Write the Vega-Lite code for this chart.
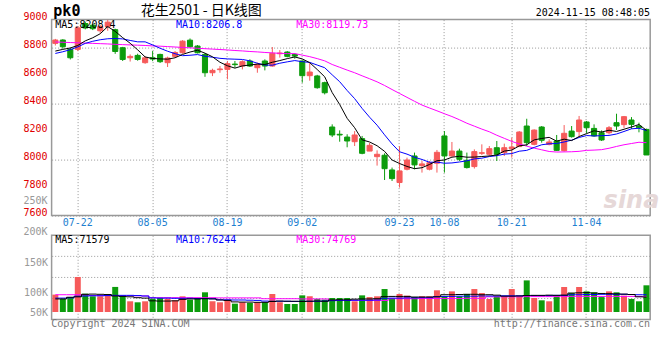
{
  "$schema": "https://vega.github.io/schema/vega-lite/v6.json",
  "autosize": {"type": "pad"},
  "padding": {"left": 22.6, "top": 2.6, "right": 9.9, "bottom": 32},
  "bounds": "flush",
  "spacing": 19.7,
  "background": "white",
  "config": {
    "font": "DejaVu Sans Mono",
    "view": {"stroke": "#999999", "strokeWidth": 1.5},
    "axis": {"ticks": false, "domain": false, "grid": true, "gridColor": "#999999", "gridDash": [1, 2], "gridWidth": 1, "labelFont": "DejaVu Sans Mono", "labelFontSize": 10, "labelOverlap": false, "labelFlush": false, "labelBound": false, "title": null}
  },
  "data": {"values": [
    {"d":"07-17","o":8830,"h":8862,"l":8815,"c":8854,"v":82.5,"m5":8775,"m10":8758,"m30":8840,"vm5":62,"vm10":66,"vm30":82},
    {"d":"07-18","o":8854,"h":8860,"l":8792,"c":8806,"v":62,"m5":8787,"m10":8770,"m30":8838,"vm5":62,"vm10":66,"vm30":82},
    {"d":"07-19","o":8787,"h":8799,"l":8715,"c":8727,"v":71,"m5":8797,"m10":8785,"m30":8836,"vm5":70,"vm10":67,"vm30":82},
    {"d":"07-22","o":8787,"h":8954,"l":8775,"c":8941,"v":166,"m5":8815,"m10":8805,"m30":8834,"vm5":72,"vm10":75,"vm30":82},
    {"d":"07-23","o":8972,"h":8985,"l":8930,"c":8940,"v":87,"m5":8848,"m10":8830,"m30":8832,"vm5":84,"vm10":76,"vm30":81},
    {"d":"07-24","o":8960,"h":8970,"l":8925,"c":8935,"v":74.5,"m5":8870,"m10":8845,"m30":8830,"vm5":85,"vm10":77,"vm30":78},
    {"d":"07-25","o":8920,"h":8962,"l":8905,"c":8950,"v":74.5,"m5":8899,"m10":8856,"m30":8828,"vm5":84,"vm10":77,"vm30":78},
    {"d":"07-26","o":8950,"h":8998,"l":8920,"c":8982,"v":80.7,"m5":8950,"m10":8863,"m30":8826,"vm5":83,"vm10":78,"vm30":78},
    {"d":"07-29","o":8928,"h":8935,"l":8755,"c":8772,"v":119,"m5":8916,"m10":8865,"m30":8823,"vm5":76,"vm10":79,"vm30":78},
    {"d":"07-30","o":8799,"h":8805,"l":8704,"c":8715,"v":74.5,"m5":8871,"m10":8862,"m30":8821,"vm5":74,"vm10":79,"vm30":77},
    {"d":"07-31","o":8727,"h":8751,"l":8700,"c":8737,"v":50.8,"m5":8831,"m10":8851,"m30":8819,"vm5":72,"vm10":79,"vm30":77},
    {"d":"08-01","o":8744,"h":8756,"l":8706,"c":8715,"v":46,"m5":8784,"m10":8841,"m30":8817,"vm5":68,"vm10":78,"vm30":77},
    {"d":"08-02","o":8692,"h":8739,"l":8684,"c":8727,"v":50.8,"m5":8733,"m10":8841,"m30":8815,"vm5":66,"vm10":76,"vm30":76},
    {"d":"08-05","o":8727,"h":8775,"l":8703,"c":8718,"v":63.4,"m5":8722,"m10":8819,"m30":8812,"vm5":53,"vm10":67,"vm30":68},
    {"d":"08-06","o":8751,"h":8756,"l":8690,"c":8699,"v":66.5,"m5":8719,"m10":8795,"m30":8810,"vm5":52,"vm10":66,"vm30":68},
    {"d":"08-07","o":8692,"h":8735,"l":8661,"c":8725,"v":63.4,"m5":8717,"m10":8774,"m30":8807,"vm5":52,"vm10":66,"vm30":68},
    {"d":"08-08","o":8737,"h":8775,"l":8730,"c":8765,"v":55.5,"m5":8727,"m10":8756,"m30":8804,"vm5":53,"vm10":65,"vm30":68},
    {"d":"08-09","o":8763,"h":8853,"l":8756,"c":8846,"v":74.5,"m5":8751,"m10":8742,"m30":8801,"vm5":60,"vm10":65,"vm30":68},
    {"d":"08-12","o":8853,"h":8865,"l":8800,"c":8806,"v":58.7,"m5":8768,"m10":8745,"m30":8798,"vm5":62,"vm10":65,"vm30":68},
    {"d":"08-13","o":8811,"h":8818,"l":8758,"c":8763,"v":66.5,"m5":8781,"m10":8750,"m30":8795,"vm5":62,"vm10":64,"vm30":68},
    {"d":"08-14","o":8751,"h":8760,"l":8591,"c":8620,"v":93.5,"m5":8760,"m10":8738,"m30":8792,"vm5":63,"vm10":64,"vm30":68},
    {"d":"08-15","o":8620,"h":8649,"l":8596,"c":8637,"v":50.8,"m5":8734,"m10":8731,"m30":8789,"vm5":62,"vm10":63,"vm30":68},
    {"d":"08-16","o":8642,"h":8668,"l":8620,"c":8647,"v":46,"m5":8695,"m10":8723,"m30":8786,"vm5":57,"vm10":58,"vm30":67},
    {"d":"08-19","o":8644,"h":8704,"l":8573,"c":8685,"v":58.7,"m5":8670,"m10":8719,"m30":8783,"vm5":55,"vm10":58,"vm30":67},
    {"d":"08-20","o":8682,"h":8704,"l":8656,"c":8678,"v":39.7,"m5":8653,"m10":8717,"m30":8779,"vm5":48,"vm10":57,"vm30":67},
    {"d":"08-21","o":8668,"h":8709,"l":8644,"c":8699,"v":46,"m5":8669,"m10":8715,"m30":8776,"vm5":47,"vm10":57,"vm30":67},
    {"d":"08-22","o":8704,"h":8716,"l":8661,"c":8668,"v":42.9,"m5":8675,"m10":8705,"m30":8772,"vm5":47,"vm10":56,"vm30":67},
    {"d":"08-23","o":8656,"h":8692,"l":8620,"c":8680,"v":46,"m5":8682,"m10":8688,"m30":8769,"vm5":46,"vm10":55,"vm30":67},
    {"d":"08-26","o":8704,"h":8716,"l":8637,"c":8668,"v":46,"m5":8679,"m10":8675,"m30":8765,"vm5":46,"vm10":52,"vm30":63},
    {"d":"08-27","o":8668,"h":8804,"l":8663,"c":8759,"v":85.4,"m5":8695,"m10":8674,"m30":8762,"vm5":50,"vm10":51,"vm30":63},
    {"d":"08-28","o":8756,"h":8782,"l":8728,"c":8761,"v":46,"m5":8707,"m10":8688,"m30":8759,"vm5":52,"vm10":51,"vm30":63},
    {"d":"08-29","o":8768,"h":8775,"l":8730,"c":8737,"v":38,"m5":8721,"m10":8698,"m30":8757,"vm5":51,"vm10":51,"vm30":63},
    {"d":"08-30","o":8751,"h":8758,"l":8720,"c":8739,"v":38,"m5":8733,"m10":8707,"m30":8757,"vm5":51,"vm10":50,"vm30":63},
    {"d":"09-02","o":8704,"h":8708,"l":8549,"c":8599,"v":79,"m5":8719,"m10":8699,"m30":8746,"vm5":50,"vm10":51,"vm30":62},
    {"d":"09-03","o":8599,"h":8690,"l":8563,"c":8625,"v":74.5,"m5":8692,"m10":8694,"m30":8735,"vm5":51,"vm10":51,"vm30":62},
    {"d":"09-04","o":8597,"h":8605,"l":8506,"c":8513,"v":62,"m5":8643,"m10":8675,"m30":8721,"vm5":52,"vm10":51,"vm30":62},
    {"d":"09-05","o":8549,"h":8556,"l":8465,"c":8477,"v":58.7,"m5":8591,"m10":8656,"m30":8705,"vm5":51,"vm10":52,"vm30":62},
    {"d":"09-06","o":8232,"h":8251,"l":8160,"c":8175,"v":66.4,"m5":8478,"m10":8605,"m30":8679,"vm5":57,"vm10":54,"vm30":55},
    {"d":"09-09","o":8180,"h":8208,"l":8127,"c":8175,"v":66.4,"m5":8393,"m10":8556,"m30":8659,"vm5":58,"vm10":55,"vm30":55},
    {"d":"09-10","o":8160,"h":8180,"l":8087,"c":8132,"v":66.4,"m5":8294,"m10":8493,"m30":8639,"vm5":58,"vm10":55,"vm30":55},
    {"d":"09-11","o":8127,"h":8203,"l":8096,"c":8175,"v":50.8,"m5":8227,"m10":8435,"m30":8620,"vm5":61,"vm10":56,"vm30":55},
    {"d":"09-12","o":8149,"h":8168,"l":8037,"c":8044,"v":79,"m5":8140,"m10":8365,"m30":8598,"vm5":62,"vm10":56,"vm30":55},
    {"d":"09-13","o":8060,"h":8118,"l":8060,"c":8101,"v":71,"m5":8125,"m10":8302,"m30":8577,"vm5":62,"vm10":56,"vm30":55},
    {"d":"09-18","o":8020,"h":8065,"l":7956,"c":8037,"v":74.5,"m5":8098,"m10":8245,"m30":8555,"vm5":63,"vm10":57,"vm30":55},
    {"d":"09-19","o":8030,"h":8044,"l":7853,"c":7934,"v":109,"m5":8058,"m10":8176,"m30":8529,"vm5":73,"vm10":65,"vm30":55},
    {"d":"09-20","o":7925,"h":7942,"l":7846,"c":7863,"v":66.4,"m5":7996,"m10":8111,"m30":8500,"vm5":74,"vm10":66,"vm30":63},
    {"d":"09-23","o":7835,"h":8094,"l":7799,"c":7918,"v":85.4,"m5":7971,"m10":8055,"m30":8472,"vm5":74,"vm10":66,"vm30":63},
    {"d":"09-24","o":7930,"h":8013,"l":7922,"c":7996,"v":77.6,"m5":7950,"m10":8038,"m30":8444,"vm5":74,"vm10":67,"vm30":63},
    {"d":"09-25","o":8025,"h":8049,"l":7930,"c":7961,"v":71,"m5":7934,"m10":8016,"m30":8416,"vm5":71,"vm10":67,"vm30":63},
    {"d":"09-26","o":7956,"h":7989,"l":7906,"c":7968,"v":74.5,"m5":7941,"m10":8000,"m30":8389,"vm5":71,"vm10":68,"vm30":64},
    {"d":"09-27","o":7930,"h":7989,"l":7922,"c":7977,"v":74.5,"m5":7964,"m10":7980,"m30":8368,"vm5":71,"vm10":68,"vm30":64},
    {"d":"09-30","o":7973,"h":8068,"l":7906,"c":8051,"v":103,"m5":7991,"m10":7981,"m30":8348,"vm5":72,"vm10":73,"vm30":64},
    {"d":"10-08","o":8168,"h":8203,"l":7906,"c":8025,"v":74.5,"m5":7996,"m10":7973,"m30":8327,"vm5":82,"vm10":74,"vm30":64},
    {"d":"10-09","o":8025,"h":8125,"l":8020,"c":8060,"v":98,"m5":8016,"m10":7975,"m30":8307,"vm5":82,"vm10":74,"vm30":64},
    {"d":"10-10","o":8060,"h":8077,"l":7989,"c":8001,"v":74.5,"m5":8023,"m10":7982,"m30":8284,"vm5":83,"vm10":75,"vm30":64},
    {"d":"10-11","o":7994,"h":8049,"l":7935,"c":7942,"v":85.4,"m5":8016,"m10":7990,"m30":8259,"vm5":84,"vm10":75,"vm30":65},
    {"d":"10-14","o":7949,"h":8072,"l":7935,"c":8056,"v":109,"m5":8017,"m10":8004,"m30":8238,"vm5":84,"vm10":75,"vm30":65},
    {"d":"10-15","o":8044,"h":8108,"l":8032,"c":8048,"v":90,"m5":8021,"m10":8009,"m30":8217,"vm5":82,"vm10":76,"vm30":65},
    {"d":"10-16","o":8037,"h":8096,"l":8025,"c":8077,"v":61.9,"m5":8025,"m10":8021,"m30":8198,"vm5":82,"vm10":76,"vm30":72},
    {"d":"10-17","o":8084,"h":8132,"l":7989,"c":8037,"v":74.5,"m5":8032,"m10":8027,"m30":8173,"vm5":80,"vm10":76,"vm30":72},
    {"d":"10-18","o":8049,"h":8113,"l":8025,"c":8084,"v":74.5,"m5":8060,"m10":8038,"m30":8151,"vm5":75,"vm10":77,"vm30":72},
    {"d":"10-21","o":8077,"h":8156,"l":8013,"c":8089,"v":109,"m5":8067,"m10":8042,"m30":8129,"vm5":75,"vm10":77,"vm30":72},
    {"d":"10-22","o":8092,"h":8203,"l":8089,"c":8196,"v":74.5,"m5":8097,"m10":8059,"m30":8111,"vm5":76,"vm10":77,"vm30":72},
    {"d":"10-23","o":8239,"h":8291,"l":8096,"c":8120,"v":150,"m5":8105,"m10":8065,"m30":8095,"vm5":78,"vm10":78,"vm30":73},
    {"d":"10-24","o":8108,"h":8215,"l":8101,"c":8210,"v":66.4,"m5":8140,"m10":8086,"m30":8081,"vm5":79,"vm10":78,"vm30":73},
    {"d":"10-25","o":8232,"h":8239,"l":8120,"c":8137,"v":55.5,"m5":8150,"m10":8105,"m30":8069,"vm5":79,"vm10":78,"vm30":73},
    {"d":"10-28","o":8108,"h":8144,"l":8101,"c":8125,"v":50.8,"m5":8158,"m10":8112,"m30":8057,"vm5":80,"vm10":78,"vm30":73},
    {"d":"10-29","o":8132,"h":8175,"l":8060,"c":8065,"v":74.5,"m5":8131,"m10":8114,"m30":8053,"vm5":79,"vm10":79,"vm30":73},
    {"d":"10-30","o":8063,"h":8246,"l":8056,"c":8187,"v":118.6,"m5":8145,"m10":8125,"m30":8054,"vm5":80,"vm10":79,"vm30":73},
    {"d":"10-31","o":8203,"h":8239,"l":8156,"c":8163,"v":90,"m5":8135,"m10":8138,"m30":8055,"vm5":90,"vm10":82,"vm30":74},
    {"d":"11-01","o":8199,"h":8311,"l":8163,"c":8282,"v":118.6,"m5":8164,"m10":8157,"m30":8058,"vm5":91,"vm10":82,"vm30":74},
    {"d":"11-04","o":8268,"h":8275,"l":8187,"c":8227,"v":98,"m5":8185,"m10":8171,"m30":8065,"vm5":92,"vm10":83,"vm30":74},
    {"d":"11-05","o":8222,"h":8251,"l":8163,"c":8168,"v":93.5,"m5":8205,"m10":8168,"m30":8067,"vm5":90,"vm10":83,"vm30":74},
    {"d":"11-06","o":8191,"h":8208,"l":8132,"c":8139,"v":71,"m5":8196,"m10":8170,"m30":8070,"vm5":88,"vm10":84,"vm30":74},
    {"d":"11-07","o":8191,"h":8239,"l":8180,"c":8227,"v":98,"m5":8209,"m10":8172,"m30":8080,"vm5":87,"vm10":84,"vm30":74},
    {"d":"11-08","o":8263,"h":8327,"l":8211,"c":8239,"v":93.5,"m5":8200,"m10":8182,"m30":8093,"vm5":86,"vm10":84,"vm30":74},
    {"d":"11-11","o":8249,"h":8311,"l":8225,"c":8306,"v":77.6,"m5":8216,"m10":8200,"m30":8105,"vm5":85,"vm10":84,"vm30":74},
    {"d":"11-12","o":8282,"h":8303,"l":8218,"c":8251,"v":61.9,"m5":8232,"m10":8219,"m30":8114,"vm5":83,"vm10":83,"vm30":74},
    {"d":"11-13","o":8239,"h":8263,"l":8194,"c":8227,"v":50.8,"m5":8250,"m10":8223,"m30":8123,"vm5":72,"vm10":82,"vm30":74},
    {"d":"11-14","o":8215,"h":8220,"l":8032,"c":8032,"v":126.7,"m5":8208,"m10":8207,"m30":8120,"vm5":71,"vm10":82,"vm30":74}
  ]},
  "vconcat": [
    {
      "width": 598.6,
      "height": 195.8,
      "layer": [
        {
          "data": {"values": [{}]},
          "mark": {"type": "text", "text": "sina", "font": "DejaVu Sans", "fontSize": 24, "fontWeight": "bold", "fontStyle": "italic", "color": "#e6d8d8", "baseline": "middle"},
          "encoding": {
            "x": {"datum": "11-12", "type": "ordinal", "scale": {"type": "band", "paddingInner": 0, "paddingOuter": 0}},
            "y": {"datum": 7700, "type": "quantitative", "scale": {"domain": [7600, 9000], "nice": false, "zero": false},
              "axis": {"values": [7600,7800,8000,8200,8400,8600,8800,9000], "labels": false}}
          }
        },
        {
          "mark": {"type": "rule", "strokeWidth": 1},
          "encoding": {
            "x": {"field": "d", "type": "ordinal", "scale": {"type": "band", "paddingInner": 0, "paddingOuter": 0},
              "axis": {"values": ["07-22","08-05","08-19","09-02","09-23","10-08","10-21","11-04"], "bandPosition": 0.5, "labelColor": "#1e7fd0", "labelPadding": 2, "labelAngle": 0, "labelAlign": "center", "labelBaseline": "top"}},
            "y": {"field": "l", "type": "quantitative", "scale": {"domain": [7600, 9000], "nice": false, "zero": false},
              "axis": {"values": [7600,7800,8000,8200,8400,8600,8800,9000], "labels": false}},
            "y2": {"field": "h"},
            "color": {"condition": {"test": "datum.c >= datum.o", "value": "#f65a5a"}, "value": "#0c9c0c"}
          }
        },
        {
          "mark": {"type": "bar", "width": {"band": 0.68}, "strokeWidth": 1},
          "encoding": {
            "x": {"field": "d", "type": "ordinal", "scale": {"type": "band", "paddingInner": 0, "paddingOuter": 0}},
            "y": {"field": "o", "type": "quantitative", "scale": {"domain": [7600, 9000], "nice": false, "zero": false}},
            "y2": {"field": "c"},
            "fill": {"condition": {"test": "datum.c >= datum.o", "value": "#f65a5a"}, "value": "#0c9c0c"},
            "stroke": {"condition": {"test": "datum.c >= datum.o", "value": "#f65a5a"}, "value": "#0c9c0c"}
          }
        },
        {
          "mark": {"type": "line", "color": "#ff00ff", "strokeWidth": 1},
          "encoding": {
            "x": {"field": "d", "type": "ordinal", "scale": {"type": "band", "paddingInner": 0, "paddingOuter": 0}},
            "y": {"field": "m30", "type": "quantitative", "scale": {"domain": [7600, 9000], "nice": false, "zero": false}}
          }
        },
        {
          "mark": {"type": "line", "color": "#0000ff", "strokeWidth": 1},
          "encoding": {
            "x": {"field": "d", "type": "ordinal", "scale": {"type": "band", "paddingInner": 0, "paddingOuter": 0}},
            "y": {"field": "m10", "type": "quantitative", "scale": {"domain": [7600, 9000], "nice": false, "zero": false}}
          }
        },
        {
          "mark": {"type": "line", "color": "#000000", "strokeWidth": 1},
          "encoding": {
            "x": {"field": "d", "type": "ordinal", "scale": {"type": "band", "paddingInner": 0, "paddingOuter": 0}},
            "y": {"field": "m5", "type": "quantitative", "scale": {"domain": [7600, 9000], "nice": false, "zero": false}}
          }
        },
        {
          "data": {"values": [{"t": 7600}, {"t": 7800}, {"t": 8000}, {"t": 8200}, {"t": 8400}, {"t": 8600}, {"t": 8800}, {"t": 9000}]},
          "mark": {"type": "text", "fontSize": 10, "align": "right", "baseline": "middle", "dx": -7.74, "dy": -2.5, "color": "#e00000"},
          "encoding": {
            "x": {"datum": "07-17", "type": "ordinal"},
            "y": {"field": "t", "type": "quantitative"},
            "text": {"field": "t", "type": "quantitative", "format": "d"}
          }
        },
        {
          "data": {"values": [{}]},
          "layer": [
            {"mark": {"type": "text", "text": "pk0", "font": "DejaVu Sans Mono", "fontSize": 15, "fontWeight": "bold", "align": "left", "baseline": "middle", "dx": -2, "color": "#000000"},
              "encoding": {"x": {"datum": "07-17", "type": "ordinal"}, "y": {"datum": 9060, "type": "quantitative"}}},
            {"mark": {"type": "text", "text": "花生2501 - 日K线图", "font": "Noto Sans CJK SC", "fontSize": 14, "align": "left", "baseline": "middle", "dx": 3, "color": "#000000"},
              "encoding": {"x": {"datum": "08-01", "type": "ordinal"}, "y": {"datum": 9060, "type": "quantitative"}}},
            {"mark": {"type": "text", "text": "2024-11-15 08:48:05", "fontSize": 10, "align": "right", "baseline": "middle", "dx": 3.5, "color": "#000000"},
              "encoding": {"x": {"datum": "11-14", "type": "ordinal"}, "y": {"datum": 9050, "type": "quantitative"}}},
            {"mark": {"type": "text", "text": "MA5:8208.4", "fontSize": 10, "align": "left", "baseline": "middle", "dx": 0, "color": "#000000"},
              "encoding": {"x": {"datum": "07-17", "type": "ordinal"}, "y": {"datum": 8961, "type": "quantitative"}}},
            {"mark": {"type": "text", "text": "MA10:8206.8", "fontSize": 10, "align": "left", "baseline": "middle", "dx": 1, "color": "#0000ff"},
              "encoding": {"x": {"datum": "08-08", "type": "ordinal"}, "y": {"datum": 8961, "type": "quantitative"}}},
            {"mark": {"type": "text", "text": "MA30:8119.73", "fontSize": 10, "align": "left", "baseline": "middle", "dx": 1.4, "color": "#ff00ff"},
              "encoding": {"x": {"datum": "08-30", "type": "ordinal"}, "y": {"datum": 8961, "type": "quantitative"}}}
          ]
        }
      ]
    },
    {
      "width": 598.6,
      "height": 84.3,
      "layer": [
        {
          "data": {"values": [{"g": 64}, {"g": 164}, {"g": 264}]},
          "mark": {"type": "rule", "color": "#999999", "strokeDash": [1, 2], "strokeWidth": 1},
          "encoding": {
            "y": {"field": "g", "type": "quantitative", "scale": {"domain": [-36, 364], "nice": false, "zero": false},
              "axis": {"values": [0, 93.5, 237], "grid": false, "labelColor": "#999999", "labelPadding": 4, "labelOverlap": false,
                "labelExpr": "datum.value == 0 ? '50K' : (datum.value < 150 ? '100K' : '150K')"}}
          }
        },
        {
          "mark": {"type": "bar", "width": {"band": 0.8}},
          "encoding": {
            "x": {"field": "d", "type": "ordinal", "scale": {"type": "band", "paddingInner": 0, "paddingOuter": 0},
              "axis": {"values": ["07-22","08-05","08-19","09-02","09-23","10-08","10-21","11-04"], "bandPosition": 0.5, "labels": false}},
            "y": {"field": "v", "type": "quantitative", "scale": {"domain": [-36, 364], "nice": false, "zero": false},
              "axis": {"values": [0, 93.5, 237], "grid": false, "labelColor": "#999999", "labelPadding": 4, "labelOverlap": false,
                "labelExpr": "datum.value == 0 ? '50K' : (datum.value < 150 ? '100K' : '150K')"}},
            "y2": {"datum": 0},
            "color": {"condition": {"test": "datum.c >= datum.o", "value": "#f65a5a"}, "value": "#0c9c0c"}
          }
        },
        {
          "mark": {"type": "line", "color": "#ff00ff", "strokeWidth": 1, "interpolate": "step"},
          "encoding": {
            "x": {"field": "d", "type": "ordinal", "scale": {"type": "band", "paddingInner": 0, "paddingOuter": 0}},
            "y": {"field": "vm30", "type": "quantitative", "scale": {"domain": [-36, 364], "nice": false, "zero": false}}
          }
        },
        {
          "mark": {"type": "line", "color": "#0000ff", "strokeWidth": 1, "interpolate": "step"},
          "encoding": {
            "x": {"field": "d", "type": "ordinal", "scale": {"type": "band", "paddingInner": 0, "paddingOuter": 0}},
            "y": {"field": "vm10", "type": "quantitative", "scale": {"domain": [-36, 364], "nice": false, "zero": false}}
          }
        },
        {
          "mark": {"type": "line", "color": "#000000", "strokeWidth": 1, "interpolate": "step"},
          "encoding": {
            "x": {"field": "d", "type": "ordinal", "scale": {"type": "band", "paddingInner": 0, "paddingOuter": 0}},
            "y": {"field": "vm5", "type": "quantitative", "scale": {"domain": [-36, 364], "nice": false, "zero": false}}
          }
        },
        {
          "data": {"values": [{}]},
          "layer": [
            {"mark": {"type": "text", "text": "250K", "fontSize": 10, "align": "right", "baseline": "middle", "dx": -7.74, "color": "#999999"},
              "encoding": {"x": {"datum": "07-17", "type": "ordinal"}, "y": {"datum": 525, "type": "quantitative"}}},
            {"mark": {"type": "text", "text": "200K", "fontSize": 10, "align": "right", "baseline": "middle", "dx": -7.74, "color": "#999999"},
              "encoding": {"x": {"datum": "07-17", "type": "ordinal"}, "y": {"datum": 380, "type": "quantitative"}}},
            {"mark": {"type": "text", "text": "MA5:71579", "fontSize": 10, "align": "left", "baseline": "middle", "dx": 0, "color": "#000000"},
              "encoding": {"x": {"datum": "07-17", "type": "ordinal"}, "y": {"datum": 340, "type": "quantitative"}}},
            {"mark": {"type": "text", "text": "MA10:76244", "fontSize": 10, "align": "left", "baseline": "middle", "dx": 1, "color": "#0000ff"},
              "encoding": {"x": {"datum": "08-08", "type": "ordinal"}, "y": {"datum": 340, "type": "quantitative"}}},
            {"mark": {"type": "text", "text": "MA30:74769", "fontSize": 10, "align": "left", "baseline": "middle", "dx": 1.4, "color": "#ff00ff"},
              "encoding": {"x": {"datum": "08-30", "type": "ordinal"}, "y": {"datum": 340, "type": "quantitative"}}},
            {"mark": {"type": "text", "text": "Copyright 2024 SINA.COM", "fontSize": 10, "align": "left", "baseline": "middle", "dx": -4, "color": "#777777"},
              "encoding": {"x": {"datum": "07-17", "type": "ordinal"}, "y": {"datum": -58, "type": "quantitative"}}},
            {"mark": {"type": "text", "text": "http://finance.sina.com.cn", "fontSize": 10, "align": "right", "baseline": "middle", "dx": 3.5, "color": "#777777"},
              "encoding": {"x": {"datum": "11-14", "type": "ordinal"}, "y": {"datum": -58, "type": "quantitative"}}}
          ]
        }
      ]
    }
  ]
}
